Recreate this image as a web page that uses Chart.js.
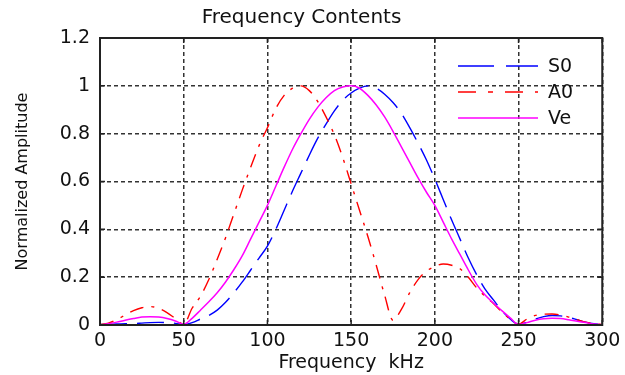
<!DOCTYPE html>
<html>
<head>
<meta charset="utf-8">
<script src="https://cdn.jsdelivr.net/npm/chart.js@4.4.0/dist/chart.umd.min.js"></script>
<style>
    html, body { margin: 0; padding: 0; background: #fff; }
</style>
</head>
<body>
<canvas id="myChart" width="625" height="375"></canvas>
<script>
/* datos */
const frecuencia = [0, 5, 10, 15, 20, 25, 30, 35, 40, 45, 50, 55, 60, 65, 70, 75, 80, 85, 90, 95,
    100, 105, 110, 115, 120, 125, 130, 135, 140, 145, 150, 155, 160, 165, 170, 175, 180, 185, 190, 195,
    200, 205, 210, 215, 220, 225, 230, 235, 240, 245, 250, 255, 260, 265, 270, 275, 280, 285, 290, 295, 300];

const s0 = [0.002, 0.003, 0.004, 0.005, 0.006, 0.008, 0.01, 0.011, 0.01, 0.007, 0.002, 0.01, 0.025, 0.04, 0.062, 0.095, 0.135, 0.18, 0.23, 0.28,
    0.33, 0.4, 0.48, 0.56, 0.635, 0.71, 0.78, 0.84, 0.895, 0.94, 0.97, 0.99, 1.0, 0.99, 0.965, 0.93, 0.885, 0.825, 0.76, 0.69,
    0.61, 0.525, 0.44, 0.36, 0.28, 0.21, 0.15, 0.105, 0.06, 0.025, 0.003, 0.012, 0.025, 0.035, 0.04, 0.038, 0.032, 0.022, 0.012, 0.005, 0.002];

const a0 = [0.001, 0.008, 0.022, 0.042, 0.06, 0.072, 0.077, 0.07, 0.052, 0.027, 0.003, 0.07, 0.12, 0.19, 0.275, 0.365, 0.465, 0.565, 0.66, 0.75,
    0.825, 0.905, 0.96, 0.99, 1.0, 0.98, 0.935, 0.87, 0.795, 0.7, 0.59, 0.48, 0.37, 0.25, 0.125, 0.02, 0.065, 0.135, 0.19, 0.225,
    0.245, 0.255, 0.25, 0.235, 0.2, 0.155, 0.12, 0.09, 0.055, 0.025, 0.003, 0.025, 0.04, 0.045, 0.046, 0.042, 0.033, 0.022, 0.012, 0.005, 0.002];

const ve = [0, 0.005, 0.012, 0.02, 0.027, 0.033, 0.035, 0.033, 0.027, 0.017, 0.003, 0.028, 0.062, 0.097, 0.135, 0.18, 0.232, 0.29, 0.36, 0.43,
    0.5, 0.58, 0.66, 0.735, 0.8, 0.86, 0.91, 0.95, 0.98, 0.995, 1.0, 0.99, 0.96, 0.92, 0.87, 0.81, 0.745, 0.68, 0.615, 0.555,
    0.5, 0.43, 0.36, 0.295, 0.23, 0.17, 0.125, 0.092, 0.06, 0.03, 0.002, 0.01, 0.02, 0.026, 0.028, 0.027, 0.022, 0.016, 0.01, 0.004, 0.001];

const ticksX = [0, 50, 100, 150, 200, 250, 300];
const ticksY = [0, 0.2, 0.4, 0.6, 0.8, 1, 1.2];

const fuente = "'DejaVu Sans', 'Liberation Sans', Arial, sans-serif";

/* caja negra con marcas hacia adentro, estilo matlab */
const marco = {
    id: 'marco',
    afterDatasetsDraw(chart) {
        const { ctx, chartArea: a, scales: { x, y } } = chart;
        ctx.save();
        ctx.setLineDash([]);
        ctx.strokeStyle = '#222';
        ctx.lineWidth = 1.5;
        ctx.beginPath();
        x.ticks.forEach(t => {
            const px = x.getPixelForValue(t.value);
            ctx.moveTo(px, a.bottom); ctx.lineTo(px, a.bottom - 5);
            ctx.moveTo(px, a.top); ctx.lineTo(px, a.top + 5);
        });
        y.ticks.forEach(t => {
            const py = y.getPixelForValue(t.value);
            ctx.moveTo(a.left, py); ctx.lineTo(a.left + 5, py);
            ctx.moveTo(a.right, py); ctx.lineTo(a.right - 5, py);
        });
        ctx.stroke();
        ctx.lineWidth = 2;
        ctx.strokeRect(a.left, a.top, a.right - a.left, a.bottom - a.top);
        ctx.restore();
    }
};

/* leyenda dentro del area, sin caja */
const leyenda = {
    id: 'leyenda',
    afterDatasetsDraw(chart, args, opts) {
        const ctx = chart.ctx;
        ctx.save();
        ctx.font = opts.font;
        ctx.textBaseline = 'middle';
        ctx.textAlign = 'left';
        chart.data.datasets.forEach((ds, i) => {
            const yy = opts.top + i * opts.row;
            ctx.strokeStyle = ds.borderColor;
            ctx.lineWidth = ds.borderWidth;
            ctx.setLineDash(opts.dashes[i]);
            ctx.beginPath();
            ctx.moveTo(opts.x0, yy);
            ctx.lineTo(opts.x1, yy);
            ctx.stroke();
            ctx.fillStyle = '#111';
            ctx.fillText(ds.label, opts.textX, yy + 1);
        });
        ctx.restore();
    }
};

function contenidoFrecuencia() {

    const ctx = document.getElementById('myChart');

    new Chart(ctx, {
        type: 'line',
        data: {
            datasets: [{
                label: 'S0',
                data: frecuencia.map((f, i) => ({ x: f, y: s0[i] })),
                borderColor: '#0000ff',
                borderWidth: 1.4,
                borderDash: [27, 10],
                order: 3
            },
            {
                label: 'A0',
                data: frecuencia.map((f, i) => ({ x: f, y: a0[i] })),
                borderColor: '#ff0000',
                borderWidth: 1.4,
                borderDash: [14, 8, 3, 8],
                order: 2
            },
            {
                label: 'Ve',
                data: frecuencia.map((f, i) => ({ x: f, y: ve[i] })),
                borderColor: '#ff00ff',
                borderWidth: 1.5,
                order: 1
            }]
        },
        options: {
            responsive: false,
            animation: false,
            layout: {
                padding: { left: 0, right: 22, top: 0, bottom: 0 }
            },
            elements: {
                point: { radius: 0 },
                line: { cubicInterpolationMode: 'monotone', fill: false }
            },
            plugins: {
                legend: { display: false },
                tooltip: { enabled: false },
                title: {
                    display: true,
                    text: 'Frequency Contents',
                    color: '#111',
                    font: { family: fuente, size: 20, weight: 'normal' },
                    padding: { top: 5.5, bottom: 8.5 }
                },
                leyenda: {
                    font: '19px ' + fuente,
                    top: 66,
                    row: 26,
                    x0: 458,
                    x1: 538,
                    textX: 548,
                    dashes: [[36, 12], [18, 12, 5, 12], []]
                }
            },
            scales: {
                x: {
                    type: 'linear',
                    min: 0,
                    max: 300,
                    afterBuildTicks: s => { s.ticks = ticksX.map(v => ({ value: v })); },
                    afterFit: s => { s.height = 50; },
                    grid: { color: '#333', lineWidth: 1.5, drawTicks: false },
                    border: { display: false, dash: [4, 3] },
                    ticks: {
                        color: '#111',
                        padding: 4.6,
                        maxRotation: 0,
                        font: { family: fuente, size: 19 },
                        callback: v => String(v)
                    },
                    title: {
                        display: true,
                        text: 'Frequency  kHz',
                        color: '#111',
                        font: { family: fuente, size: 19 },
                        padding: { top: 0, bottom: 0.5 }
                    }
                },
                y: {
                    type: 'linear',
                    min: 0,
                    max: 1.2,
                    afterBuildTicks: s => { s.ticks = ticksY.map(v => ({ value: v })); },
                    afterFit: s => { s.width = 100; },
                    grid: { color: '#333', lineWidth: 1.5, drawTicks: false },
                    border: { display: false, dash: [4, 3] },
                    ticks: {
                        color: '#111',
                        padding: 10,
                        font: { family: fuente, size: 19 },
                        callback: v => String(Number(v.toFixed(1)))
                    },
                    title: {
                        display: true,
                        text: 'Normalized Amplitude',
                        color: '#111',
                        font: { family: fuente, size: 16 },
                        padding: { top: 13, bottom: 0 }
                    }
                }
            }
        },
        plugins: [marco, leyenda]
    });
}

contenidoFrecuencia();
</script>
</body>
</html>
